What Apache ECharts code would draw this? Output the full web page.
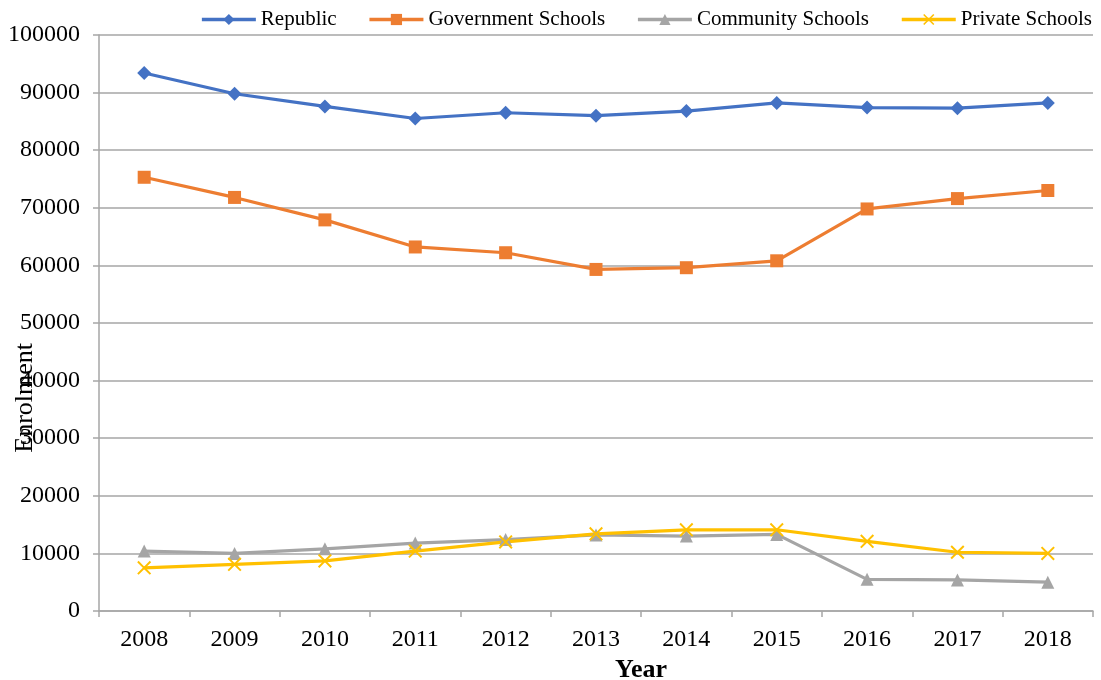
<!DOCTYPE html>
<html>
<head>
<meta charset="utf-8">
<script src="https://cdn.jsdelivr.net/npm/echarts@6/dist/echarts.min.js"></script>
<style>
  html, body { margin: 0; padding: 0; background: #ffffff; }
  #chart { width: 1101px; height: 680px; }
</style>
</head>
<body>
<div id="chart"></div>
<script>
// Enrolment by school type, 2008-2018
const years = ['2008', '2009', '2010', '2011', '2012', '2013', '2014', '2015', '2016', '2017', '2018'];
const republic = [93400, 89800, 87600, 85500, 86500, 86000, 86800, 88200, 87400, 87300, 88200];
const government = [75300, 71800, 67900, 63200, 62200, 59300, 59600, 60800, 69800, 71600, 73000];
const community = [10400, 10000, 10800, 11800, 12400, 13200, 13000, 13300, 5500, 5400, 5000];
const privateSchools = [7500, 8100, 8700, 10400, 12000, 13400, 14100, 14100, 12100, 10200, 10000];

const FONT = '"Liberation Serif", "Times New Roman", serif';
const AXIS_GREY = '#a6a6a6';
const CROSS = 'path://M0,1L1,0L5,4L9,0L10,1L6,5L10,9L9,10L5,6L1,10L0,9L4,5Z';

function lineSeries(name, data, color, symbol, size) {
  return {
    name: name,
    type: 'line',
    data: data,
    symbol: symbol,
    symbolSize: size,
    showAllSymbol: true,
    lineStyle: { color: color, width: 3.2 },
    itemStyle: { color: color },
    emphasis: { disabled: true }
  };
}

const chart = echarts.init(document.getElementById('chart'), null, { renderer: 'canvas' });
chart.setOption({
  animation: false,
  backgroundColor: '#ffffff',
  textStyle: { fontFamily: FONT, color: '#000000' },
  legend: {
    top: 4,
    right: 4,
    itemWidth: 54,
    itemHeight: 14,
    itemGap: 31,
    lineStyle: { width: 3.5 },
    textStyle: { fontFamily: FONT, fontSize: 21, color: '#000000' },
    data: ['Republic', 'Government Schools', 'Community Schools', 'Private Schools']
  },
  grid: { left: 99, right: 8, top: 35, bottom: 69, outerBoundsMode: 'none', containLabel: false },
  xAxis: {
    type: 'category',
    data: years,
    boundaryGap: true,
    name: 'Year',
    nameLocation: 'middle',
    nameGap: 35,
    nameTextStyle: { fontFamily: FONT, fontSize: 26, fontWeight: 'bold', color: '#000000', padding: [0, 0, 0, 90] },
    axisLine: { lineStyle: { color: AXIS_GREY, width: 1.5 } },
    axisTick: { show: true, length: 6, alignWithLabel: false, lineStyle: { color: AXIS_GREY, width: 1.5 } },
    axisLabel: { fontFamily: FONT, fontSize: 24, color: '#000000', margin: 17 }
  },
  yAxis: {
    type: 'value',
    min: 0,
    max: 100000,
    interval: 10000,
    axisLine: { show: true, lineStyle: { color: AXIS_GREY, width: 1.5 } },
    axisTick: { show: true, length: 6, lineStyle: { color: AXIS_GREY, width: 1.5 } },
    axisLabel: { fontFamily: FONT, fontSize: 24, color: '#000000', margin: 19, formatter: function (v) { return String(v); } },
    splitLine: { show: true, lineStyle: { color: AXIS_GREY, width: 1.5 } }
  },
  graphic: [{
    type: 'text',
    left: 12,
    top: 343,
    rotation: Math.PI / 2,
    style: { text: 'Enrolment', font: '26px ' + FONT, fill: '#000000' },
    silent: true
  }],
  series: [
    lineSeries('Republic', republic, '#4472C4', 'diamond', 14),
    lineSeries('Government Schools', government, '#ED7D31', 'rect', 13),
    lineSeries('Community Schools', community, '#A5A5A5', 'triangle', 13),
    lineSeries('Private Schools', privateSchools, '#FFC000', CROSS, 14)
  ]
});
</script>
</body>
</html>
